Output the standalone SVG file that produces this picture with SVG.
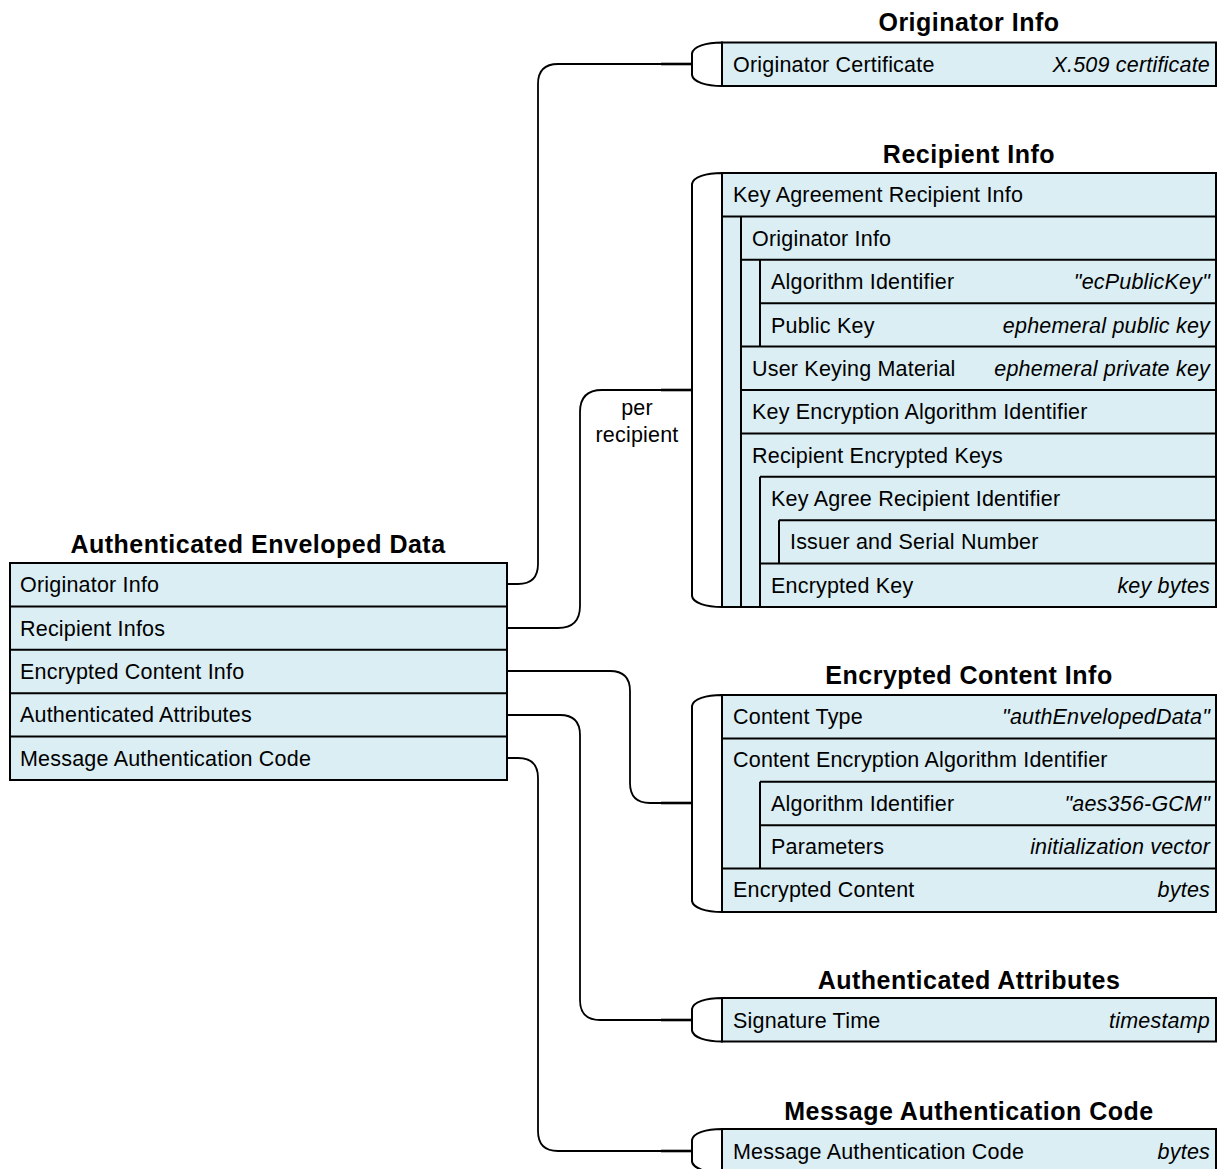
<svg xmlns="http://www.w3.org/2000/svg" width="1218" height="1169" viewBox="0 0 1218 1169">
  <style>
    .box { fill: #daeef3; stroke: #000; stroke-width: 2; }
    .ln { fill: none; stroke: #000; stroke-width: 2; }
    .brk { fill: #fff; stroke: #000; stroke-width: 2; }
    .stub { fill: none; stroke: #000; stroke-width: 2.6; }
    .con { fill: none; stroke: #000; stroke-width: 1.8; }
    text { font-family: "Liberation Sans", Arial, sans-serif; fill: #000; }
    .t { font-size: 21.5px; letter-spacing: 0.2px; }
    .v { font-size: 21.5px; font-style: italic; text-anchor: end; letter-spacing: 0.2px; }
    .h { font-size: 25px; font-weight: bold; text-anchor: middle; letter-spacing: 0.5px; }
    .lbl { font-size: 21.5px; text-anchor: middle; letter-spacing: 0.2px; }
  </style>

  <!-- connectors between the main structure and its parts -->
  <g id="connectors">
    <path class="con" d="M507,584 H518 Q538,584 538,564 V84 Q538,64 558,64 H692"/>
    <path class="con" d="M507,628 H558 Q580,628 580,606 V412 Q580,390 602,390 H692"/>
    <path class="con" d="M507,671 H610 Q630,671 630,691 V783 Q630,803 650,803 H692"/>
    <path class="con" d="M507,715 H560 Q580,715 580,735 V1000 Q580,1020 600,1020 H692"/>
    <path class="con" d="M507,758 H518 Q538,758 538,778 V1131 Q538,1151 558,1151 H692"/>
    <line class="stub" x1="661" y1="64" x2="692" y2="64"/>
    <line class="stub" x1="661" y1="390" x2="692" y2="390"/>
    <line class="stub" x1="661" y1="803" x2="692" y2="803"/>
    <line class="stub" x1="661" y1="1020" x2="692" y2="1020"/>
    <line class="stub" x1="661" y1="1151" x2="692" y2="1151"/>
    <text class="lbl" x="637" y="415">per</text>
    <text class="lbl" x="637" y="442">recipient</text>
  </g>

  <!-- main structure -->
  <g id="auth-enveloped-data">
    <text class="h" x="258" y="553">Authenticated Enveloped Data</text>
    <rect class="box" x="10" y="563" width="497" height="217"/>
    <path class="ln" d="M10,606.4 H507 M10,649.8 H507 M10,693.2 H507 M10,736.6 H507"/>
    <text class="t" x="20" y="592">Originator Info</text>
    <text class="t" x="20" y="636">Recipient Infos</text>
    <text class="t" x="20" y="679">Encrypted Content Info</text>
    <text class="t" x="20" y="722">Authenticated Attributes</text>
    <text class="t" x="20" y="766">Message Authentication Code</text>
  </g>

  <!-- originator info -->
  <g id="originator-info">
    <text class="h" x="969" y="31">Originator Info</text>
    <path class="brk" d="M722,42.5 C706,42.5 693,46.5 692,53.5 V75 C693,82 706,86 722,86 Z"/>
    <rect class="box" x="722" y="42.5" width="494" height="43.5"/>
    <text class="t" x="733" y="72">Originator Certificate</text>
    <text class="v" x="1210" y="72">X.509 certificate</text>
  </g>

  <!-- recipient info -->
  <g id="recipient-info">
    <text class="h" x="969" y="163">Recipient Info</text>
    <path class="brk" d="M722,173 C706,173 693,177 692,184 V596 C693,603 706,607 722,607 Z"/>
    <rect class="box" x="722" y="173" width="494" height="434"/>
    <path class="ln" d="M722,216.4 H1216 M741,216.4 V607 M741,259.8 H1216 M760,259.8 V346.6 M760,303.2 H1216 M741,346.6 H1216 M741,390 H1216 M741,433.4 H1216 M760,476.8 H1216 M760,476.8 V607 M779,520.2 H1216 M779,520.2 V563.6 M760,563.6 H1216"/>
    <text class="t" x="733" y="202">Key Agreement Recipient Info</text>
    <text class="t" x="752" y="246">Originator Info</text>
    <text class="t" x="771" y="289">Algorithm Identifier</text>
    <text class="v" x="1210" y="289">"ecPublicKey"</text>
    <text class="t" x="771" y="333">Public Key</text>
    <text class="v" x="1210" y="333">ephemeral public key</text>
    <text class="t" x="752" y="376">User Keying Material</text>
    <text class="v" x="1210" y="376">ephemeral private key</text>
    <text class="t" x="752" y="419">Key Encryption Algorithm Identifier</text>
    <text class="t" x="752" y="463">Recipient Encrypted Keys</text>
    <text class="t" x="771" y="506">Key Agree Recipient Identifier</text>
    <text class="t" x="790" y="549">Issuer and Serial Number</text>
    <text class="t" x="771" y="593">Encrypted Key</text>
    <text class="v" x="1210" y="593">key bytes</text>
  </g>

  <!-- encrypted content info -->
  <g id="encrypted-content-info">
    <text class="h" x="969" y="684">Encrypted Content Info</text>
    <path class="brk" d="M722,695 C706,695 693,699 692,706 V901 C693,908 706,912 722,912 Z"/>
    <rect class="box" x="722" y="695" width="494" height="217"/>
    <path class="ln" d="M722,738.4 H1216 M760,781.8 H1216 M760,781.8 V868.6 M760,825.2 H1216 M722,868.6 H1216"/>
    <text class="t" x="733" y="724">Content Type</text>
    <text class="v" x="1210" y="724">"authEnvelopedData"</text>
    <text class="t" x="733" y="767">Content Encryption Algorithm Identifier</text>
    <text class="t" x="771" y="811">Algorithm Identifier</text>
    <text class="v" x="1210" y="811">"aes356-GCM"</text>
    <text class="t" x="771" y="854">Parameters</text>
    <text class="v" x="1210" y="854">initialization vector</text>
    <text class="t" x="733" y="897">Encrypted Content</text>
    <text class="v" x="1210" y="897">bytes</text>
  </g>

  <!-- authenticated attributes -->
  <g id="authenticated-attributes">
    <text class="h" x="969" y="989">Authenticated Attributes</text>
    <path class="brk" d="M722,998 C706,998 693,1002 692,1009 V1030.5 C693,1037.5 706,1041.5 722,1041.5 Z"/>
    <rect class="box" x="722" y="998" width="494" height="43.5"/>
    <text class="t" x="733" y="1028">Signature Time</text>
    <text class="v" x="1210" y="1028">timestamp</text>
  </g>

  <!-- message authentication code -->
  <g id="message-authentication-code">
    <text class="h" x="969" y="1120">Message Authentication Code</text>
    <path class="brk" d="M722,1129 C706,1129 693,1133 692,1140 V1161.5 C693,1168.5 706,1172.5 722,1172.5 Z"/>
    <rect class="box" x="722" y="1129" width="494" height="43.5"/>
    <text class="t" x="733" y="1159">Message Authentication Code</text>
    <text class="v" x="1210" y="1159">bytes</text>
  </g>
</svg>
